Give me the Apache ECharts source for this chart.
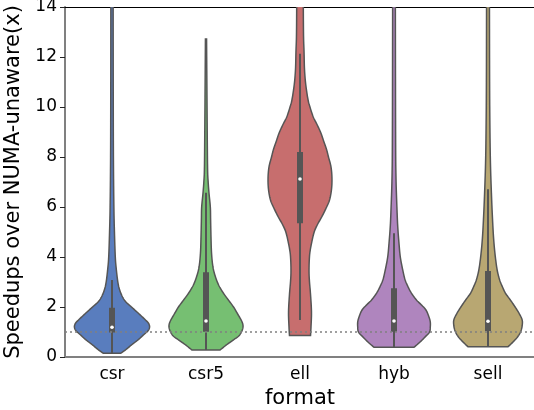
<!DOCTYPE html>
<html>
<head>
<meta charset="utf-8">
<script src="https://cdn.jsdelivr.net/npm/echarts@6/dist/echarts.min.js"></script>
<style>html,body{margin:0;padding:0;background:#fff}#c{width:534px;height:410px}</style>
</head>
<body>
<div id="c"></div>
<script>
// ---- data ----
const categories = ['csr', 'csr5', 'ell', 'hyb', 'sell'];
const yTicks = [0, 2, 4, 6, 8, 10, 12, 14];
const refLine = 1.0;
// inner box statistics: [whiskerLow, q1, median, q3, whiskerHigh]
const whiskerLow  = [0.15, 0.28, 1.48, 0.39, 0.41];
const q1          = [0.98, 1.01, 5.35, 1.01, 1.04];
const median      = [1.19, 1.44, 7.12, 1.44, 1.43];
const q3          = [1.97, 3.39, 8.20, 2.75, 3.44];
const whiskerHigh = [3.08, 6.57, 12.13, 4.95, 6.71];
// violin density outlines: [value, half-width as fraction of category band]
const csrProfile = [[0.15,.094],[0.3,.149],[0.5,.213],[0.7,.282],[0.9,.340],[1.05,.383],[1.2,.400],[1.35,.388],[1.5,.351],[1.65,.309],[1.8,.266],[2.0,.207],[2.2,.149],[2.4,.112],[2.7,.080],[3.0,.062],[3.5,.046],[4.0,.035],[5.0,.026],[6.0,.020],[8,.015],[11,.013],[15,.012]];
const csr5Profile = [[0.28,.149],[0.5,.223],[0.7,.298],[0.85,.351],[1.05,.383],[1.25,.394],[1.45,.378],[1.7,.340],[2.0,.293],[2.3,.234],[2.55,.186],[2.85,.138],[3.2,.101],[3.6,.074],[4.15,.059],[4.8,.053],[5.5,.049],[6.0,.046],[6.55,.032],[7.0,.023],[7.5,.017],[9,.013],[12.72,.006]];
const ellProfile = [[0.86,.112],[1.2,.117],[1.8,.122],[2.5,.112],[3.0,.101],[3.4,.096],[3.9,.099],[4.3,.110],[4.95,.147],[5.3,.186],[5.6,.231],[5.95,.277],[6.28,.314],[6.7,.335],[7.15,.340],[7.6,.330],[8.0,.303],[8.28,.284],[8.6,.255],[8.95,.223],[9.3,.181],[9.6,.141],[10.0,.106],[10.3,.085],[10.9,.061],[11.5,.048],[12.2,.043],[13.0,.037],[15,.034]];
const hybProfile = [[0.39,.213],[0.6,.277],[0.81,.333],[1.0,.378],[1.2,.386],[1.4,.386],[1.6,.372],[1.88,.340],[2.1,.287],[2.28,.239],[2.55,.186],[2.81,.149],[3.1,.117],[3.48,.093],[4.0,.067],[4.55,.053],[5.2,.040],[5.88,.032],[7.2,.021],[9,.017],[15,.014]];
const sellProfile = [[0.41,.213],[0.6,.266],[0.81,.316],[1.05,.351],[1.3,.365],[1.5,.362],[1.75,.330],[2.01,.287],[2.3,.234],[2.55,.186],[2.8,.154],[3.08,.124],[3.45,.099],[3.88,.082],[4.4,.067],[4.95,.056],[5.6,.047],[6.28,.039],[7.6,.027],[8.95,.021],[11,.017],[15,.015]];
const profiles = [csrProfile, csr5Profile, ellProfile, hybProfile, sellProfile];

// ---- styles ----
const colors = ['#597dbe', '#76bf72', '#c76e6e', '#af85be', '#b8a772'];
const edge = '#555555';
const FONT = 'DejaVu Sans';

const seriesData = categories.map((c, i) => [i, whiskerLow[i], q1[i], median[i], q3[i], whiskerHigh[i]]);

// Catmull-Rom densification of a pixel polyline (drawing only)
function smoothPath(pts, steps) {
  const out = [];
  for (let i = 0; i < pts.length - 1; i++) {
    const p0 = pts[Math.max(i - 1, 0)], p1 = pts[i], p2 = pts[i + 1], p3 = pts[Math.min(i + 2, pts.length - 1)];
    for (let s = 0; s < steps; s++) {
      const t = s / steps, t2 = t * t, t3 = t2 * t;
      const f = (a, b, c, d) => 0.5 * ((2 * b) + (-a + c) * t + (2 * a - 5 * b + 4 * c - d) * t2 + (-a + 3 * b - 3 * c + d) * t3);
      out.push([f(p0[0], p1[0], p2[0], p3[0]), f(p0[1], p1[1], p2[1], p3[1])]);
    }
  }
  out.push(pts[pts.length - 1]);
  return out;
}

function renderItem(params, api) {
  const ci = api.value(0);
  const prof = profiles[ci];
  const band = api.size([1, 0])[0];
  const cx = api.coord([ci, 0])[0];
  const right = prof.map(([v, w]) => [cx + w * band, api.coord([ci, v])[1]]);
  const rs = smoothPath(right, 8);
  const ls = rs.map(p => [2 * cx - p[0], p[1]]).reverse();
  const yLo = api.coord([ci, api.value(1)])[1];
  const yQ1 = api.coord([ci, api.value(2)])[1];
  const yMed = api.coord([ci, api.value(3)])[1];
  const yQ3 = api.coord([ci, api.value(4)])[1];
  const yHi = api.coord([ci, api.value(5)])[1];
  const boxW = 6;
  return {
    type: 'group',
    children: [
      { type: 'polygon', shape: { points: rs.concat(ls) },
        style: { fill: colors[ci], stroke: edge, lineWidth: 1.5 } },
      { type: 'line', shape: { x1: cx, y1: yLo, x2: cx, y2: yHi },
        style: { stroke: edge, lineWidth: 2 } },
      { type: 'rect', shape: { x: cx - boxW / 2, y: yQ3, width: boxW, height: yQ1 - yQ3 },
        style: { fill: edge } },
      { type: 'circle', shape: { cx: cx, cy: yMed, r: 1.8 },
        style: { fill: '#ffffff' } }
    ]
  };
}

const chart = echarts.init(document.getElementById('c'), null, { renderer: 'canvas' });
chart.setOption({
  animation: false,
  backgroundColor: '#ffffff',
  textStyle: { fontFamily: FONT },
  grid: { left: 65, top: 7, width: 470, height: 350, containLabel: false, outerBoundsMode: 'none' },
  xAxis: [{
    type: 'category',
    data: categories,
    boundaryGap: true,
    name: 'format',
    nameLocation: 'middle',
    nameGap: 28,
    nameTextStyle: { fontSize: 21, color: '#000', fontFamily: FONT },
    axisLine: { lineStyle: { color: '#808080', width: 2 } },
    axisTick: { alignWithLabel: true, length: 5, lineStyle: { color: '#222', width: 1 } },
    axisLabel: { fontSize: 17, color: '#000', margin: 9, fontFamily: FONT },
    splitLine: { show: false }
  }, {
    type: 'category',
    data: categories,
    position: 'top',
    axisLine: { lineStyle: { color: '#000', width: 1 } },
    axisTick: { show: false },
    axisLabel: { show: false },
    splitLine: { show: false }
  }],
  yAxis: {
    type: 'value',
    min: 0, max: 14, interval: 2,
    name: 'Speedups over NUMA-unaware(x)',
    nameLocation: 'middle',
    nameGap: 31,
    nameTextStyle: { fontSize: 21, color: '#000', fontFamily: FONT },
    axisLine: { show: true, lineStyle: { color: '#808080', width: 2 } },
    axisTick: { show: true, length: 5, lineStyle: { color: '#222', width: 1 } },
    axisLabel: { fontSize: 17, color: '#000', margin: 8, fontFamily: FONT,
      formatter: v => yTicks.includes(v) ? String(v) : '' },
    splitLine: { show: false }
  },
  series: [{
    type: 'custom',
    renderItem: renderItem,
    clip: true,
    data: seriesData,
    encode: { x: 0, y: [1, 2, 3, 4, 5] },
    z: 2
  }, {
    type: 'line',
    data: [],
    z: 5,
    silent: true,
    markLine: {
      silent: true,
      symbol: ['none', 'none'],
      label: { show: false },
      lineStyle: { color: '#808080', width: 1.5, type: [2, 3] },
      data: [{ yAxis: refLine }]
    }
  }]
});
</script>
</body>
</html>
